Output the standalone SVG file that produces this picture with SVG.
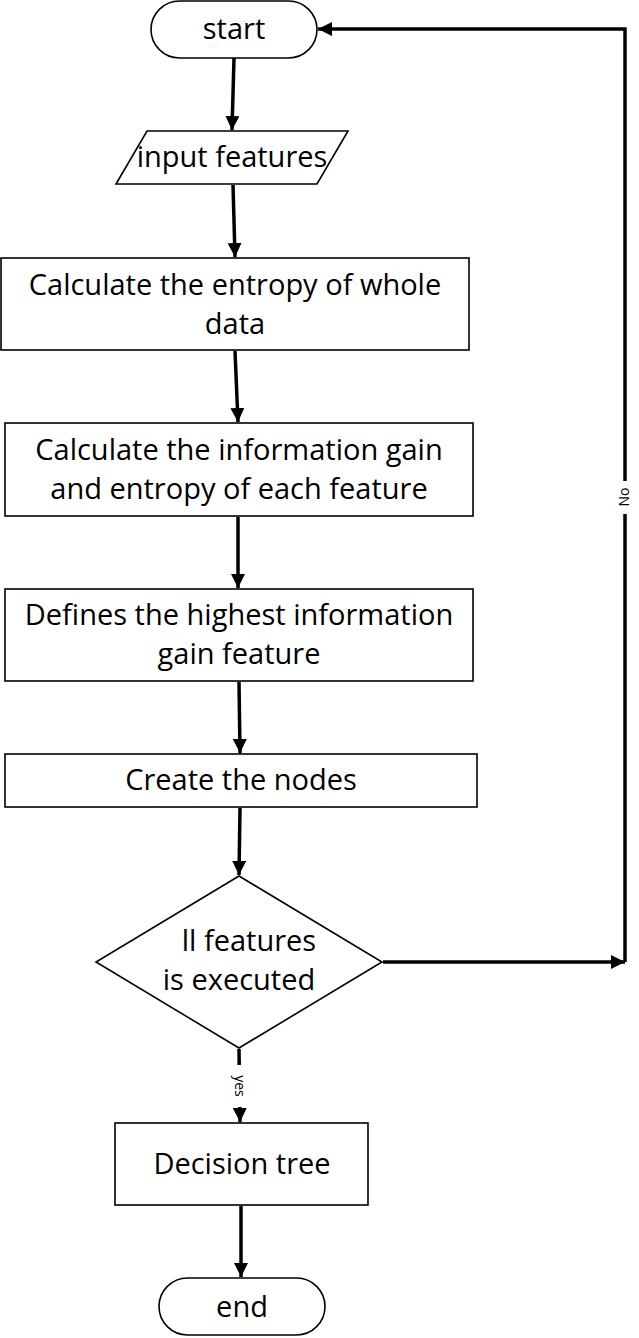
<svg xmlns="http://www.w3.org/2000/svg" width="639" height="1338" viewBox="0 0 639 1338">
<defs>
<marker id="ah" viewBox="0 0 10 10" refX="10" refY="5" markerWidth="14" markerHeight="14" markerUnits="userSpaceOnUse" orient="auto">
<path d="M0,0 L10,5 L0,10 Z" fill="#000"/>
</marker>
</defs>
<style>
.shape{fill:#fff;stroke:#000;stroke-width:1.6}
.lbl{font-family:"Open Sans","Liberation Sans",sans-serif;font-size:29px;fill:#000;text-anchor:middle}
.conn{fill:none;stroke:#000;stroke-width:3.5}
.small{font-family:"Open Sans","Liberation Sans",sans-serif;font-size:14px;fill:#000;text-anchor:middle}
</style>
<rect width="639" height="1338" fill="#fff"/>
<g id="connectors">
<line class="conn" x1="234" y1="58" x2="232" y2="130" marker-end="url(#ah)"/>
<line class="conn" x1="233" y1="185" x2="235" y2="257" marker-end="url(#ah)"/>
<line class="conn" x1="235" y1="351" x2="238" y2="422" marker-end="url(#ah)"/>
<line class="conn" x1="238" y1="517" x2="238" y2="588" marker-end="url(#ah)"/>
<line class="conn" x1="239" y1="682" x2="240" y2="753" marker-end="url(#ah)"/>
<line class="conn" x1="240" y1="808" x2="239" y2="875" marker-end="url(#ah)"/>
<polyline class="conn" points="383,962 625,962" marker-end="url(#ah)"/>
<polyline class="conn" points="625,962 625,29 318,29" marker-end="url(#ah)"/>
<line class="conn" x1="239" y1="1049" x2="240" y2="1122" marker-end="url(#ah)"/>
<line class="conn" x1="241" y1="1206" x2="241" y2="1277" marker-end="url(#ah)"/>
<rect x="615" y="481" width="20" height="33" fill="#fff"/>
<text class="small" transform="translate(629,497) rotate(-90)">No</text>
<rect x="229" y="1065" width="22" height="42" fill="#fff"/>
<text class="small" transform="translate(235,1086) rotate(90)">yes</text>
</g>
<g id="start">
<rect class="shape" x="151" y="1" width="166" height="57" rx="28.5"/>
<text class="lbl" x="234" y="39">start</text>
</g>
<g id="input">
<polygon class="shape" points="116,184 147,131 348,131 317,184"/>
<text class="lbl" x="232" y="167">input features</text>
</g>
<g id="entropy">
<rect class="shape" x="1" y="258" width="468" height="92"/>
<text class="lbl" x="235" y="295">Calculate the entropy of whole</text>
<text class="lbl" x="235" y="334">data</text>
</g>
<g id="gain">
<rect class="shape" x="5" y="423" width="468" height="93"/>
<text class="lbl" x="239" y="460">Calculate the information gain</text>
<text class="lbl" x="239" y="499">and entropy of each feature</text>
</g>
<g id="highest">
<rect class="shape" x="5" y="589" width="468" height="92"/>
<text class="lbl" x="239" y="625">Defines the highest information</text>
<text class="lbl" x="239" y="664">gain feature</text>
</g>
<g id="nodes">
<rect class="shape" x="5" y="754" width="472" height="53"/>
<text class="lbl" x="241" y="790">Create the nodes</text>
</g>
<g id="decision">
<polygon class="shape" points="239,876 382,962 239,1048 96,962"/>
<text class="lbl" x="249" y="951">ll features</text>
<text class="lbl" x="239" y="990">is executed</text>
</g>
<g id="tree">
<rect class="shape" x="115" y="1123" width="253" height="82"/>
<text class="lbl" x="242" y="1174">Decision tree</text>
</g>
<g id="end">
<rect class="shape" x="159" y="1278" width="166" height="57" rx="28.5"/>
<text class="lbl" x="242" y="1317">end</text>
</g>
</svg>
